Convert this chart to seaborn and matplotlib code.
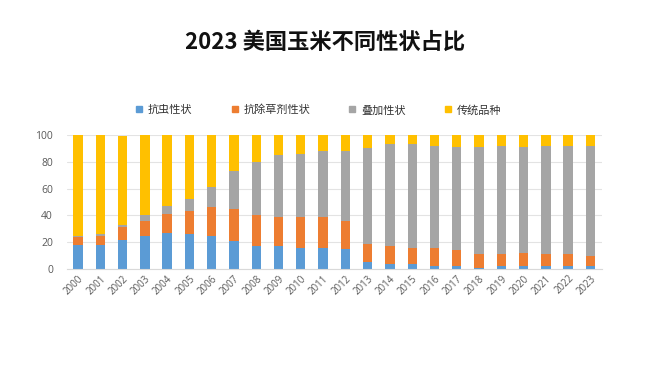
import matplotlib
matplotlib.use("Agg")
import matplotlib.pyplot as plt
from matplotlib.lines import Line2D
import seaborn as sns
import pandas as pd
import numpy as np

years = [str(y) for y in range(2000, 2024)]
insect_resistant = [18, 18, 22, 25, 27, 26, 25, 21, 17, 17, 16, 16, 15, 5, 4, 4, 2, 2, 1, 2, 2, 2, 2, 2]
herbicide_tolerant = [6, 7, 9, 11, 14, 17, 21, 24, 23, 22, 23, 23, 21, 14, 13, 12, 14, 12, 10, 9, 10, 9, 9, 8]
stacked = [1, 1, 2, 4, 6, 9, 15, 28, 40, 46, 47, 49, 52, 71, 76, 77, 76, 77, 80, 81, 79, 81, 81, 82]
conventional = [75, 74, 66, 60, 53, 48, 39, 27, 20, 15, 14, 12, 12, 10, 7, 7, 8, 9, 9, 8, 9, 8, 8, 8]
series_names = ["抗虫性状", "抗除草剂性状", "叠加性状", "传统品种"]
colors = ["#5B9BD5", "#ED7D31", "#A5A5A5", "#FFC000"]
y_ticks = [0, 20, 40, 60, 80, 100]

sns.set_theme(style="white")
plt.rcParams["font.family"] = ["Noto Sans CJK SC", "DejaVu Sans"]

df = pd.DataFrame({
    "year": years,
    "s1": insect_resistant,
    "s2": herbicide_tolerant,
    "s3": stacked,
    "s4": conventional,
})
df["c1"] = df["s1"]
df["c2"] = df["c1"] + df["s2"]
df["c3"] = df["c2"] + df["s3"]
df["c4"] = df["c3"] + df["s4"]

fig = plt.figure(figsize=(6.5, 3.65), dpi=100)
fig.patch.set_facecolor("white")
ax = fig.add_axes([66.85 / 650, 96 / 365, (601.6 - 66.85) / 650, 134 / 365])

for col, color in zip(["c4", "c3", "c2", "c1"], colors[::-1]):
    sns.barplot(data=df, x="year", y=col, color=color, width=0.42,
                saturation=1, ax=ax, linewidth=0, edgecolor="none")

ax.set_ylim(0, 100)
ax.set_xlim(-0.5, len(years) - 0.5)
ax.set_yticks(y_ticks)
ax.set_yticklabels([str(t) for t in y_ticks], fontsize=7.5, color="#595959",
                   family=["Open Sans", "DejaVu Sans"])
ax.set_xticks(range(len(years)))
ax.set_xticklabels(years, rotation=45, ha="right", rotation_mode="anchor",
                   fontsize=7, color="#595959", family=["Open Sans", "DejaVu Sans"])
ax.tick_params(axis="both", length=0, pad=3)
ax.tick_params(axis="y", pad=10)
ax.set_xlabel("")
ax.set_ylabel("")
ax.yaxis.grid(True, color="#E3E3E3", linewidth=0.8)
ax.set_axisbelow(True)
for s in ["top", "right", "left"]:
    ax.spines[s].set_visible(False)
ax.spines["bottom"].set_color("#D9D9D9")
ax.spines["bottom"].set_linewidth(0.8)

fig.text(325 / 650, 1 - 42 / 365, "2023 美国玉米不同性状占比", ha="center", va="center",
         fontsize=16, fontweight="bold", color="#111111")

handles = [Line2D([0], [0], marker="s", linestyle="none", markersize=5,
                  markerfacecolor=c, markeredgecolor=c) for c in colors]
fig.legend(handles, series_names, loc="center", bbox_to_anchor=(318 / 650, 1 - 110 / 365),
           ncol=4, frameon=False, fontsize=8, handletextpad=0.4, columnspacing=3.4,
           handlelength=0.8, labelcolor="#333333")

fig.savefig("out.png", dpi=100, facecolor="white")
